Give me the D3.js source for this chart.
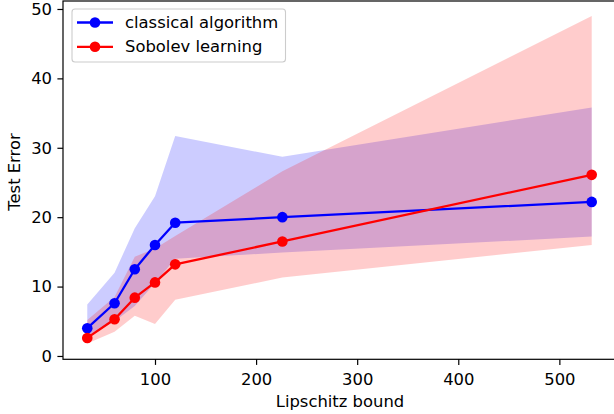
<!DOCTYPE html>
<html>
<head>
<meta charset="utf-8">
<script src="https://cdn.jsdelivr.net/npm/d3@7"></script>
<style>
  body { margin: 0; background: #fff; }
  svg { display: block; font-family: "DejaVu Sans", sans-serif; }
</style>
</head>
<body>
<div id="chart"></div>
<script>
// Test error vs Lipschitz bound, two methods with min/max bands
const lipschitz = [33, 60, 80, 100, 120, 226, 532];
const classical = [4.0, 7.6, 12.5, 16.0, 19.2, 20.0, 22.2];
const classicalLo = [2.8, 5.0, 7.2, 10.5, 14.0, 14.9, 17.2];
const classicalHi = [7.4, 12.0, 18.4, 23.0, 31.7, 28.7, 35.8];
const sobolev = [2.6, 5.3, 8.4, 10.6, 13.2, 16.5, 26.1];
const sobolevLo = [1.8, 3.5, 5.8, 4.6, 8.1, 11.3, 16.0];
const sobolevHi = [5.2, 8.5, 14.3, 15.5, 17.3, 26.6, 49.0];
const xTicks = [100, 200, 300, 400, 500];
const yTicks = [0, 10, 20, 30, 40, 50];

const width = 614, height = 414;
const plot = { left: 63, right: 618, top: 1, bottom: 359.3 };
const fontSize = "16.4px";

const svg = d3.select("#chart").append("svg")
  .attr("width", width)
  .attr("height", height);

const x = d3.scaleLinear().domain([9, 558]).range([plot.left, plot.right]);
const y = d3.scaleLinear().domain([-0.48, 51.15]).range([plot.bottom, plot.top]);

const series = [
  { name: "classical algorithm", color: "#0000ff", mean: classical, lo: classicalLo, hi: classicalHi },
  { name: "Sobolev learning", color: "#ff0000", mean: sobolev, lo: sobolevLo, hi: sobolevHi }
];

// bands first (under the lines)
const area = d3.area()
  .x(d => x(d.x))
  .y0(d => y(d.lo))
  .y1(d => y(d.hi));

series.forEach(s => {
  const pts = lipschitz.map((v, i) => ({ x: v, lo: s.lo[i], hi: s.hi[i] }));
  svg.append("path")
    .attr("d", area(pts))
    .attr("fill", s.color)
    .attr("fill-opacity", 0.2);
});

const line = d3.line().x(d => x(d.x)).y(d => y(d.y));

series.forEach(s => {
  const pts = lipschitz.map((v, i) => ({ x: v, y: s.mean[i] }));
  svg.append("path")
    .attr("d", line(pts))
    .attr("fill", "none")
    .attr("stroke", s.color)
    .attr("stroke-width", 2.3)
    .attr("stroke-linejoin", "round");
  svg.selectAll(null)
    .data(pts)
    .enter()
    .append("circle")
    .attr("cx", d => x(d.x))
    .attr("cy", d => y(d.y))
    .attr("r", 5.3)
    .attr("fill", s.color);
});

// spines
svg.append("rect")
  .attr("x", plot.left)
  .attr("y", plot.top)
  .attr("width", plot.right - plot.left)
  .attr("height", plot.bottom - plot.top)
  .attr("fill", "none")
  .attr("stroke", "#000")
  .attr("stroke-width", 1.2);

// x axis
const xAxis = d3.axisBottom(x).tickValues(xTicks).tickSize(5.6).tickPadding(8).tickSizeOuter(0);
const gx = svg.append("g")
  .attr("transform", `translate(0,${plot.bottom})`)
  .call(xAxis);
gx.select(".domain").remove();
gx.selectAll(".tick line").attr("stroke-width", 1.2);
gx.selectAll(".tick text")
  .style("font-size", fontSize)
  .style("font-family", "DejaVu Sans")
  .attr("fill", "#000");

// y axis
const yAxis = d3.axisLeft(y).tickValues(yTicks).tickSize(5.6).tickPadding(5.4).tickSizeOuter(0);
const gy = svg.append("g")
  .attr("transform", `translate(${plot.left},0)`)
  .call(yAxis);
gy.select(".domain").remove();
gy.selectAll(".tick line").attr("stroke-width", 1.2);
gy.selectAll(".tick text")
  .style("font-size", fontSize)
  .style("font-family", "DejaVu Sans")
  .attr("fill", "#000");

// axis labels
svg.append("text")
  .attr("x", 340)
  .attr("y", 407)
  .attr("text-anchor", "middle")
  .style("font-size", fontSize)
  .text("Lipschitz bound");

svg.append("text")
  .attr("transform", "translate(19.5,172) rotate(-90)")
  .attr("text-anchor", "middle")
  .style("font-size", fontSize)
  .text("Test Error");

// legend
const legend = svg.append("g");
legend.append("rect")
  .attr("x", 72)
  .attr("y", 9)
  .attr("width", 213.5)
  .attr("height", 53)
  .attr("rx", 3)
  .attr("fill", "#fff")
  .attr("fill-opacity", 0.8)
  .attr("stroke", "#cccccc")
  .attr("stroke-width", 1.1);

series.forEach((s, i) => {
  const ly = 22.5 + i * 24.3;
  legend.append("line")
    .attr("x1", 77).attr("x2", 113)
    .attr("y1", ly).attr("y2", ly)
    .attr("stroke", s.color)
    .attr("stroke-width", 2.3);
  legend.append("circle")
    .attr("cx", 95).attr("cy", ly)
    .attr("r", 5.3)
    .attr("fill", s.color);
  legend.append("text")
    .attr("x", 125)
    .attr("y", ly + 5.5)
    .style("font-size", fontSize)
    .text(s.name);
});
</script>
</body>
</html>
